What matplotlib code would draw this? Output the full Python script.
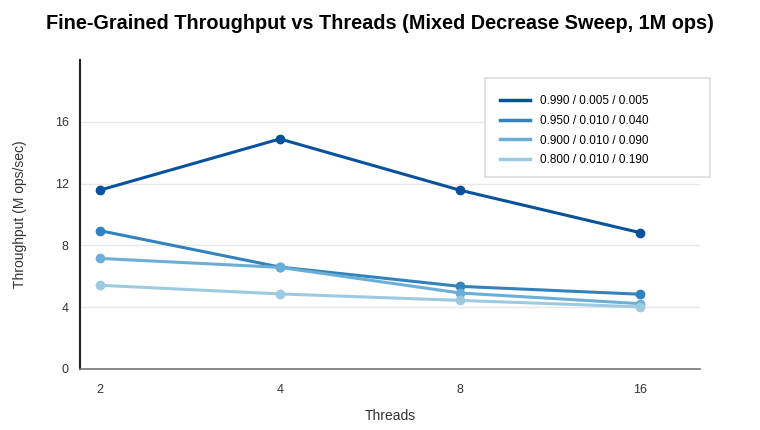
import matplotlib.pyplot as plt
from matplotlib.lines import Line2D
from matplotlib.patches import Rectangle

plt.rcParams['font.family'] = ['Liberation Sans', 'DejaVu Sans']

# Data
threads = ['2', '4', '8', '16']
mixes = ['0.990 / 0.005 / 0.005', '0.950 / 0.010 / 0.040',
         '0.900 / 0.010 / 0.090', '0.800 / 0.010 / 0.190']
mix_990 = [11.58, 14.9, 11.58, 8.83]
mix_950 = [8.96, 6.6, 5.35, 4.84]
mix_900 = [7.16, 6.58, 4.92, 4.23]
mix_800 = [5.42, 4.86, 4.44, 4.02]
colors = ['#08519c', '#3182bd', '#6baed6', '#9ecae1']

W, H = 760, 430
fig = plt.figure(figsize=(7.6, 4.3), dpi=100)
ax = fig.add_axes([0.105, 0.142, 0.816, 0.718])

xs = range(len(threads))
for vals, c in zip([mix_990, mix_950, mix_900, mix_800], colors):
    ax.plot(xs, vals, color=c, lw=2.2, marker='o', markersize=6)

ax.set_xlim(-0.111, 3.333)
ax.set_ylim(0, 20)
ax.set_xticks(list(xs))
ax.set_xticklabels(threads)
ax.set_yticks([0, 4, 8, 12, 16])
ax.tick_params(length=0, labelsize=9, labelcolor='#333333')
ax.tick_params(axis='x', pad=11)
ax.tick_params(axis='y', pad=8)
ax.grid(axis='y', color='#e6e6e6', lw=1)
ax.set_axisbelow(True)

for s in ['top', 'right']:
    ax.spines[s].set_visible(False)
ax.spines['left'].set_color('#222222')
ax.spines['left'].set_linewidth(1.5)
ax.spines['bottom'].set_color('#777777')
ax.spines['bottom'].set_linewidth(1.2)

ax.set_xlabel('Threads', fontsize=10, color='#333333', labelpad=9)
ax.set_ylabel('Throughput (M ops/sec)', fontsize=10, color='#333333', labelpad=20)
fig.suptitle('Fine-Grained Throughput vs Threads (Mixed Decrease Sweep, 1M ops)',
             fontsize=14.3, fontweight='bold', x=0.5, y=0.968)

# legend box (fixed size, wider than its content)
fig.patches.append(Rectangle((485 / W, 1 - 177 / H), 225 / W, 99 / H,
                             transform=fig.transFigure, facecolor='white',
                             edgecolor='#dddddd', lw=1.2, zorder=3))
handles = [Line2D([], [], color=c, lw=2.5) for c in colors]
leg = fig.legend(handles, mixes, loc='upper left',
                 bbox_to_anchor=(500 / W, 1 - 95 / H), fontsize=8.5,
                 frameon=False, borderpad=0, borderaxespad=0,
                 handlelength=2.55, handletextpad=0.85, labelspacing=0.66)
leg.set_zorder(4)

fig.savefig('out.png', dpi=100)
